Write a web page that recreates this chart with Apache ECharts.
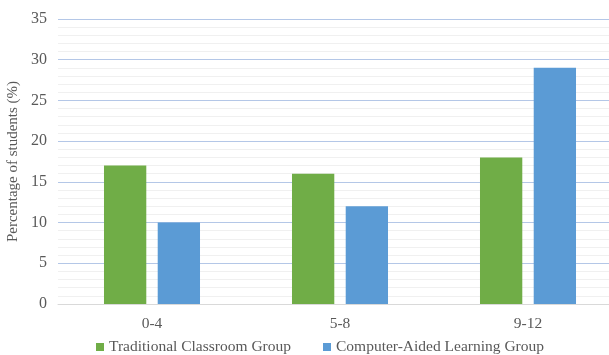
<!DOCTYPE html>
<html><head><meta charset="utf-8">
<script src="https://cdn.jsdelivr.net/npm/echarts@6/dist/echarts.min.js"></script>
<style>html,body{margin:0;padding:0;background:#fff}#c{width:609px;height:355px}</style>
</head><body><div id="c"></div>
<script>
const categories = ['0-4', '5-8', '9-12'];
const traditional = [17, 16, 18];
const computerAided = [10, 12, 29];
const seriesNames = ['Traditional Classroom Group', 'Computer-Aided Learning Group'];
const yTicks = { min: 0, max: 35, interval: 5 };

const font = 'Liberation Serif';
const chart = echarts.init(document.getElementById('c'), null, { renderer: 'canvas' });
chart.setOption({
  animation: false,
  textStyle: { fontFamily: font },
  grid: { left: 58, width: 564, top: 19, height: 285, containLabel: false, outerBoundsMode: 'none' },
  legend: {
    data: seriesNames, top: 334, left: 91, itemWidth: 8, itemHeight: 8, itemGap: 32,
    icon: 'rect',
    textStyle: { fontFamily: font, fontSize: 15.5, color: '#595959' }
  },
  xAxis: {
    type: 'category', data: categories,
    axisLine: { show: true, lineStyle: { color: '#D9D9D9' } },
    axisTick: { show: false },
    axisLabel: { fontFamily: font, fontSize: 15.5, color: '#595959', margin: 12 }
  },
  yAxis: {
    type: 'value', min: yTicks.min, max: yTicks.max, interval: yTicks.interval,
    name: 'Percentage of students (%)', nameLocation: 'middle', nameGap: 32,
    nameTextStyle: { fontFamily: font, fontSize: 15, color: '#595959' },
    axisLine: { show: false }, axisTick: { show: false },
    axisLabel: { fontFamily: font, fontSize: 16, color: '#595959', margin: 11 },
    splitLine: { lineStyle: { color: '#B4C7E7', width: 1 } },
    minorTick: { show: false, splitNumber: 5 },
    minorSplitLine: { show: true, lineStyle: { color: '#F0F0F0', width: 1 } }
  },
  series: [
    { name: seriesNames[0], type: 'bar', data: traditional, barWidth: '22.5%', barGap: '27%',
      itemStyle: { color: '#70AD47' } },
    { name: seriesNames[1], type: 'bar', data: computerAided, barWidth: '22.5%',
      itemStyle: { color: '#5B9BD5' } }
  ]
});
</script></body></html>
